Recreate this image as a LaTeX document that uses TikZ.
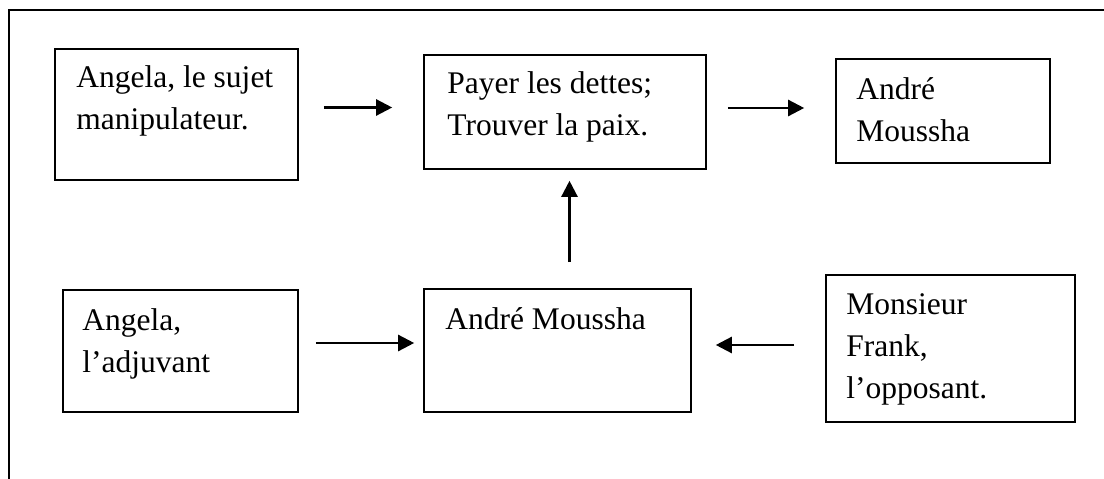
\documentclass[tikz,border=0pt]{standalone}
\usepackage{fontspec}
\setmainfont{Liberation Serif}
\usetikzlibrary{arrows.meta}

\tikzset{
    boite/.style = {draw, line width=1.6pt, inner sep=0pt},
    texte/.style = {anchor=north west, align=left, inner sep=0pt,
        font=\fontsize{31.5}{42}\selectfont},
    fleche/.style = {line width=2.4pt, -{Triangle[length=16pt,width=16pt]}},
}

\begin{document}
\begin{tikzpicture}[x=1pt, y=-1pt]
        \useasboundingbox (0,0) rectangle (1104,479);

        % cadre
        \draw[line width=2.6pt] (9,479) -- (9,10) -- (1104,10);

        % boites du haut
        \node[boite, minimum width=243, minimum height=131] (destinateur) at (176.5,114.5) {};
        \node[boite, minimum width=282, minimum height=114] (objet) at (565,112) {};
        \node[boite, minimum width=214, minimum height=104] (destinataire) at (943,111) {};

        % boites du bas
        \node[boite, minimum width=235, minimum height=122] (adjuvant) at (180.5,351) {};
        \node[boite, minimum width=267, minimum height=123] (sujet) at (557.5,350.5) {};
        \node[boite, minimum width=249, minimum height=147] (opposant) at (950.5,348.5) {};

        % textes
        \node[texte] (destinateur-t) at ([xshift=22pt,yshift=-17.5pt]destinateur.north west) {Angela, le sujet\\manipulateur.};
        \node[texte] (objet-t) at ([xshift=24pt,yshift=-17.5pt]objet.north west) {Payer les dettes;\\Trouver la paix.};
        \node[texte] (destinataire-t) at ([xshift=21pt,yshift=-19.5pt]destinataire.north west) {André\\Moussha};
        \node[texte] (adjuvant-t) at ([xshift=20pt,yshift=-19pt]adjuvant.north west) {Angela,\\l’adjuvant};
        \node[texte] (sujet-t) at ([xshift=22pt,yshift=-19.5pt]sujet.north west) {André Moussha};
        \node[texte] (opposant-t) at ([xshift=21pt,yshift=-19pt]opposant.north west) {Monsieur\\Frank,\\l’opposant.};

        % fleches
        \draw[fleche, shorten <=25pt, shorten >=31pt] ([yshift=7pt]destinateur.east) -- ([yshift=7pt]destinateur.east -| objet.west);
        \draw[fleche, shorten <=21pt, shorten >=31pt] ([yshift=4pt]objet.east) -- ([yshift=4pt]objet.east -| destinataire.west);
        \draw[fleche, shorten <=26pt, shorten >=11pt] ([xshift=12pt]sujet.north) -- ([xshift=12pt]sujet.north |- objet.south);
        \draw[fleche, shorten <=17pt, shorten >=9pt] ([yshift=8pt]adjuvant.east) -- ([yshift=8pt]adjuvant.east -| sujet.west);
        \draw[fleche, shorten <=31pt, shorten >=24pt] ([yshift=3.5pt]opposant.west) -- ([yshift=3.5pt]opposant.west -| sujet.east);

    \end{tikzpicture}
\end{document}
